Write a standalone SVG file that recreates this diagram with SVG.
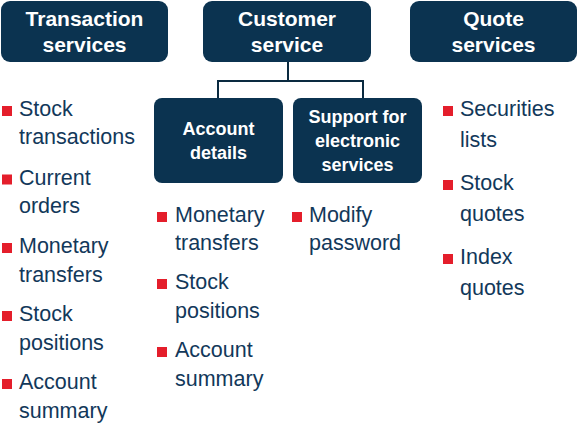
<svg xmlns="http://www.w3.org/2000/svg" width="579" height="425" viewBox="0 0 579 425">
<style>
.box{fill:#0b3350}
.h{font-family:"Liberation Sans",Arial,sans-serif;font-weight:bold;fill:#ffffff;text-anchor:middle}
.h1{font-size:21px}
.h2{font-size:18px}
.t{font-family:"Liberation Sans",Arial,sans-serif;font-size:21.5px;fill:#12385a}
.b{fill:#e41e2b}
.c{stroke:#0a2a40;stroke-width:2;fill:none}
</style>
<rect width="579" height="425" fill="#ffffff"/>
<g id="connectors">
<path class="c" d="M288 62V81M218 81H363M218 80V98M363 80V98"/>
</g>
<g id="transaction">
<rect class="box" x="1" y="1" width="167" height="61" rx="9"/>
<text class="h h1" x="84.5" y="26">Transaction</text>
<text class="h h1" x="84.5" y="52">services</text>
</g>
<g id="customer">
<rect class="box" x="203" y="1" width="168" height="61" rx="9"/>
<text class="h h1" x="287" y="26">Customer</text>
<text class="h h1" x="287" y="52">service</text>
</g>
<g id="quote">
<rect class="box" x="410" y="1" width="167" height="61" rx="9"/>
<text class="h h1" x="493.5" y="26">Quote</text>
<text class="h h1" x="493.5" y="52">services</text>
</g>
<g id="account">
<rect class="box" x="154" y="98" width="129" height="85" rx="8"/>
<text class="h h2" x="218.5" y="135">Account</text>
<text class="h h2" x="218.5" y="159">details</text>
</g>
<g id="support">
<rect class="box" x="293" y="98" width="129" height="85" rx="8"/>
<text class="h h2" x="357.5" y="123">Support for</text>
<text class="h h2" x="357.5" y="147">electronic</text>
<text class="h h2" x="357.5" y="171">services</text>
</g>
<g id="list-transaction">
<rect class="b" x="2" y="106" width="10" height="10"/>
<text class="t" x="19" y="116">Stock</text>
<text class="t" x="19" y="144">transactions</text>
<rect class="b" x="2" y="174.5" width="10" height="10"/>
<text class="t" x="19" y="184.5">Current</text>
<text class="t" x="19" y="213">orders</text>
<rect class="b" x="2" y="243" width="10" height="10"/>
<text class="t" x="19" y="253">Monetary</text>
<text class="t" x="19" y="281.5">transfers</text>
<rect class="b" x="2" y="311" width="10" height="10"/>
<text class="t" x="19" y="321">Stock</text>
<text class="t" x="19" y="350">positions</text>
<rect class="b" x="2" y="379" width="10" height="10"/>
<text class="t" x="19" y="389">Account</text>
<text class="t" x="19" y="418">summary</text>
</g>
<g id="list-account">
<rect class="b" x="157" y="212" width="10" height="10"/>
<text class="t" x="175" y="222">Monetary</text>
<text class="t" x="175" y="250">transfers</text>
<rect class="b" x="157" y="279" width="10" height="10"/>
<text class="t" x="175" y="289">Stock</text>
<text class="t" x="175" y="318">positions</text>
<rect class="b" x="157" y="347" width="10" height="10"/>
<text class="t" x="175" y="357">Account</text>
<text class="t" x="175" y="386">summary</text>
</g>
<g id="list-support">
<rect class="b" x="292" y="212" width="10" height="10"/>
<text class="t" x="309" y="222">Modify</text>
<text class="t" x="309" y="250">password</text>
</g>
<g id="list-quote">
<rect class="b" x="443" y="106" width="10" height="10"/>
<text class="t" x="460" y="116">Securities</text>
<text class="t" x="460" y="147">lists</text>
<rect class="b" x="443" y="180" width="10" height="10"/>
<text class="t" x="460" y="190">Stock</text>
<text class="t" x="460" y="221">quotes</text>
<rect class="b" x="443" y="254" width="10" height="10"/>
<text class="t" x="460" y="264">Index</text>
<text class="t" x="460" y="295">quotes</text>
</g>
</svg>
